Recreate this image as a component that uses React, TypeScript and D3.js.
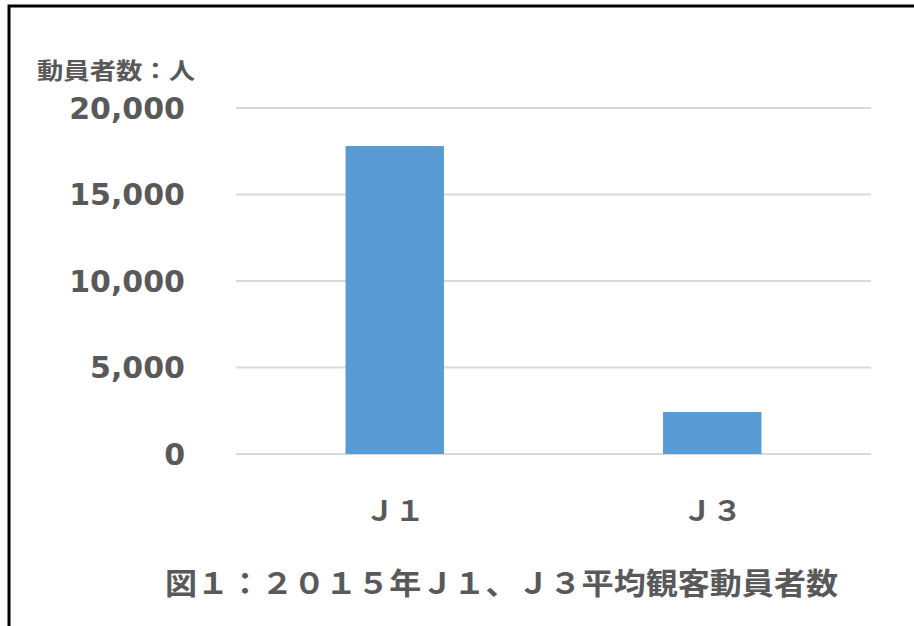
import * as d3 from "d3";
import React, { useEffect, useRef } from "react";

// 2015年 平均観客動員者数
const categories = ["Ｊ１", "Ｊ３"];
const attendance = [17800, 2430];
const yTicks = [0, 5000, 10000, 15000, 20000];
const yAxisTitle = "動員者数：人";
const chartTitle = "図１：２０１５年Ｊ１、Ｊ３平均観客動員者数";

const W = 914;
const H = 626;
const textColor = "#595959";
const cjkFont = "'Noto Sans CJK JP', 'Noto Sans CJK SC', sans-serif";

export default function App() {
  const ref = useRef<SVGSVGElement>(null);

  useEffect(() => {
    const svg = d3.select(ref.current);
    svg.selectAll("*").remove();

    const left = 236;
    const right = 871;
    const top = 108;
    const bottom = 454;

    const x = d3
      .scaleBand()
      .domain(categories)
      .range([left, right])
      .paddingInner(0.69)
      .paddingOuter(0.345);

    const y = d3.scaleLinear().domain([0, 20000]).range([bottom, top]);

    svg
      .append("rect")
      .attr("x", 0)
      .attr("y", 0)
      .attr("width", W)
      .attr("height", H)
      .attr("fill", "#fff");

    // outer frame (runs off the right / bottom edges)
    svg
      .append("rect")
      .attr("x", 9)
      .attr("y", 6)
      .attr("width", W + 200)
      .attr("height", H + 200)
      .attr("fill", "none")
      .attr("stroke", "#000")
      .attr("stroke-width", 3);

    // grid lines
    svg
      .append("g")
      .selectAll("line")
      .data(yTicks)
      .join("line")
      .attr("x1", left)
      .attr("x2", right)
      .attr("y1", (d) => y(d))
      .attr("y2", (d) => y(d))
      .attr("stroke", "#d9d9d9")
      .attr("stroke-width", 2);

    // tick labels
    svg
      .append("g")
      .selectAll("text")
      .data(yTicks)
      .join("text")
      .attr("x", 185)
      .attr("y", (d) => y(d))
      .attr("dy", "0.36em")
      .attr("text-anchor", "end")
      .attr("font-family", "'DejaVu Sans', sans-serif")
      .attr("font-weight", "bold")
      .attr("font-size", 30)
      .attr("fill", textColor)
      .text((d) => d3.format(",")(d));

    // bars
    svg
      .append("g")
      .selectAll("rect")
      .data(attendance)
      .join("rect")
      .attr("x", (d, i) => x(categories[i])!)
      .attr("y", (d) => y(d))
      .attr("width", x.bandwidth())
      .attr("height", (d) => y(0) - y(d))
      .attr("fill", "#5b9bd5");

    // category labels
    svg
      .append("g")
      .selectAll("text")
      .data(categories)
      .join("text")
      .attr("x", (d) => x(d)! + x.bandwidth() / 2)
      .attr("y", 521)
      .attr("text-anchor", "middle")
      .attr("font-family", cjkFont)
      .attr("font-weight", "bold")
      .attr("font-size", 28)
      .attr("textLength", 60)
      .attr("lengthAdjust", "spacingAndGlyphs")
      .attr("fill", textColor)
      .text((d) => d);

    svg
      .append("text")
      .attr("x", 37)
      .attr("y", 79)
      .attr("font-family", cjkFont)
      .attr("font-weight", "bold")
      .attr("font-size", 23)
      .attr("textLength", 158)
      .attr("lengthAdjust", "spacingAndGlyphs")
      .attr("fill", textColor)
      .text(yAxisTitle);

    svg
      .append("text")
      .attr("x", 165)
      .attr("y", 594)
      .attr("font-family", cjkFont)
      .attr("font-weight", "bold")
      .attr("font-size", 30)
      .attr("textLength", 673)
      .attr("lengthAdjust", "spacingAndGlyphs")
      .attr("fill", textColor)
      .text(chartTitle);
  }, []);

  return (
    <svg
      ref={ref}
      width={W}
      height={H}
      style={{ position: "fixed", left: 0, top: 0, display: "block" }}
    />
  );
}
